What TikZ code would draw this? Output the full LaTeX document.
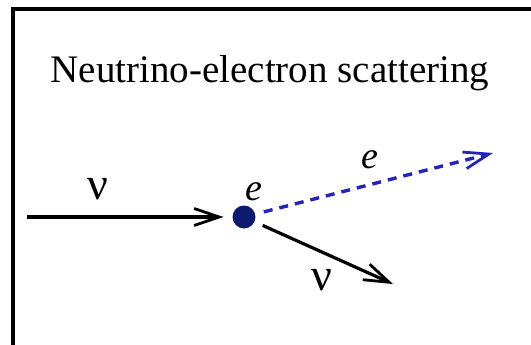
\documentclass[tikz,border=0pt]{standalone}
\usepackage{fontspec}
\setmainfont{Liberation Serif}
\usepackage{tikz}
\usetikzlibrary{arrows.meta}

\definecolor{dotnavy}{HTML}{0E1A6E}
\definecolor{elblue}{HTML}{2424B8}

\begin{document}
\begin{tikzpicture}[x=1pt, y=-1pt,
    particle/.style={line width=3.2pt, -{Straight Barb[length=25pt, width=17pt, line width=2.8pt]}},
    lbl/.style={inner sep=0pt}]
\useasboundingbox (0,0) rectangle (531,345);
% frame
\draw[line width=3.4pt] (13,345) -- (13,9) -- (531,9);
\node[anchor=base, inner sep=0pt, font=\fontsize{39}{45}\selectfont] (title) at (270,83) {Neutrino-electron scattering};
% target electron
\node[circle, fill=dotnavy, minimum size=23pt, inner sep=0pt, outer sep=9pt] (dot) at (244,217) {};
\coordinate (nuin) at (27,217);
\coordinate (eout) at (493,153);
\coordinate (nuout) at (393,284);
\draw[particle] (nuin) -- (dot);
\draw[particle, elblue, line width=3.4pt, dash pattern=on 9pt off 7pt] (dot) -- (eout);
\draw[particle] (dot) -- (nuout);
\node[lbl, font=\fontsize{46}{50}\selectfont] (nu1) at (98,189) {ν};
\node[lbl, font=\fontsize{38}{42}\selectfont\itshape] (e1) at (254,192) {e};
\node[lbl, font=\fontsize{38}{42}\selectfont\itshape] (e2) at (370,160) {e};
\node[lbl, font=\fontsize{46}{50}\selectfont] (nu2) at (322,280) {ν};
\end{tikzpicture}
\end{document}
